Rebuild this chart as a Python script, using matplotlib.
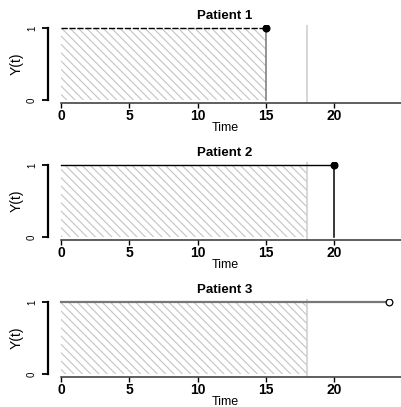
import matplotlib
matplotlib.use("Agg")
import matplotlib.pyplot as plt

plt.rcParams['font.family'] = ['Liberation Sans', 'DejaVu Sans']
plt.rcParams['hatch.linewidth'] = 0.8

# data
patients = ["Patient 1", "Patient 2", "Patient 3"]
times = [15, 20, 24]
events = [1, 1, 0]          # 1 = event (filled dot), 0 = censored (open dot)
tau = 18                    # restriction time
x_ticks = [0, 5, 10, 15, 20]
y_ticks = [0, 1]

# per-patient line look
line_colors = ["black", "black", "#777777"]
line_styles = [(0, (4.5, 1.2)), "-", "-"]
line_widths = [1.0, 1.0, 1.6]
drop_colors = ["#777777", "black", None]

W, H = 402, 407
fig = plt.figure(figsize=(W / 100, H / 100), dpi=100)

tops = [25, 162, 299]
ax_h = 78
left = 48

xmin, xmax = -0.96, 24.96

for i, name in enumerate(patients):
    ax = fig.add_axes([left / W, 1 - (tops[i] + ax_h) / H, (W - left) / W, ax_h / H])
    ax.set_xlim(xmin, xmax)
    ax.set_ylim(-0.04, 1.04)

    t = times[i]
    hatch_end = min(t, tau)
    ax.fill_between([0, hatch_end], 0, 1, facecolor="none", edgecolor="#c4c4c4",
                    hatch="\\\\\\\\", linewidth=0)
    ax.axvline(tau, color="#cccccc", lw=1.1, zorder=1)

    ax.plot([0, t], [1, 1], color=line_colors[i], ls=line_styles[i],
            lw=line_widths[i], zorder=3)
    if events[i] == 1:
        ax.plot([t, t], [0, 1], color=drop_colors[i], lw=1.1, zorder=3)
        ax.plot(t, 1, "o", color="black", ms=4.8, zorder=4)
    else:
        ax.plot(t, 1, "o", mfc="white", mec="black", mew=0.9, ms=4.8, zorder=4)

    for s in ["top", "right"]:
        ax.spines[s].set_visible(False)
    ax.spines["left"].set_bounds(0, 1)
    ax.spines["left"].set_linewidth(1.6)
    ax.spines["bottom"].set_bounds(0, xmax)
    ax.spines["bottom"].set_linewidth(1.1)
    ax.spines["bottom"].set_color("#333333")

    ax.set_xticks(x_ticks)
    ax.set_xticklabels([str(v) for v in x_ticks], fontsize=10, fontweight="bold")
    ax.set_yticks(y_ticks)
    ax.set_yticklabels([str(v) for v in y_ticks], fontsize=7, rotation=90, va="center")
    ax.tick_params(axis="x", length=3.5, width=1, pad=1)
    ax.tick_params(axis="y", length=4, width=1.3, pad=4)

    ax.set_title(name, fontsize=9.5, fontweight="bold", pad=4)
    ax.set_xlabel("Time", fontsize=9, labelpad=-1)
    ax.set_ylabel("Y(t)", fontsize=10, labelpad=2)

fig.savefig("out.png", dpi=100)
